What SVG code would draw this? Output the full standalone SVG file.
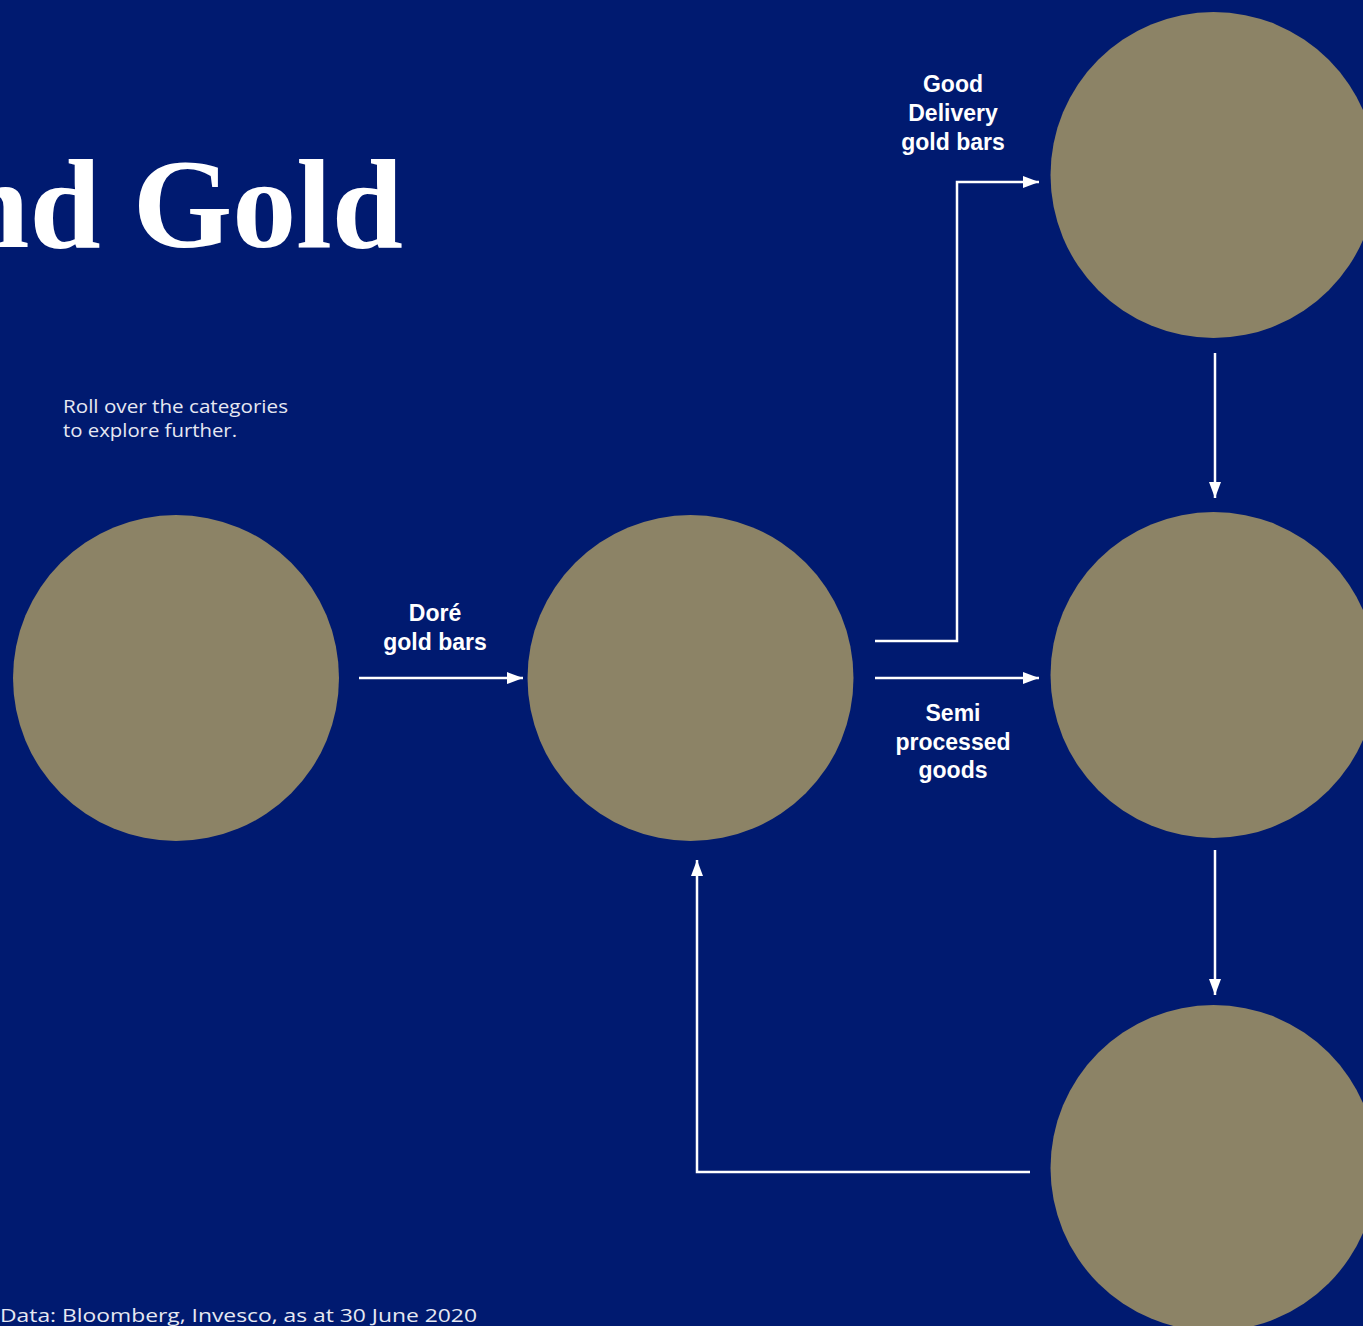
<svg xmlns="http://www.w3.org/2000/svg" width="1363" height="1326" viewBox="0 0 1363 1326">
<defs>
<marker id="ah" viewBox="0 0 16 12" refX="16" refY="6" markerWidth="16" markerHeight="12" markerUnits="userSpaceOnUse" orient="auto">
<path d="M0,0 L16,6 L0,12 Z" fill="#ffffff"/>
</marker>
<style>
.node{fill:#8C8366}
.lbl{font-family:"Liberation Sans",Arial,sans-serif;font-weight:bold;font-size:23px;fill:#ffffff;text-anchor:middle}
.conn{fill:none;stroke:#ffffff;stroke-width:2.5;marker-end:url(#ah)}
.note{font-family:"Open Sans","Liberation Sans",Arial,sans-serif;font-size:19px;fill:#E6E8F2}
</style>
</defs>
<rect x="0" y="0" width="1363" height="1326" fill="#001A70"/>
<text x="403" y="247" text-anchor="end" font-family="'Liberation Serif','Times New Roman',serif" font-weight="bold" font-size="128" fill="#ffffff">nd Gold</text>
<text class="note" x="63" y="413" textLength="225" lengthAdjust="spacingAndGlyphs">Roll over the categories</text>
<text class="note" x="63" y="437" textLength="174" lengthAdjust="spacingAndGlyphs">to explore further.</text>
<text class="note" x="0" y="1322" font-size="22" textLength="477" lengthAdjust="spacingAndGlyphs">Data: Bloomberg, Invesco, as at 30 June 2020</text>
<g id="node-mine"><circle class="node" cx="176" cy="678" r="163"/></g>
<g id="node-refinery"><circle class="node" cx="690.5" cy="678" r="163"/></g>
<g id="node-vault"><circle class="node" cx="1213.5" cy="175" r="163"/></g>
<g id="node-fabrication"><circle class="node" cx="1213.5" cy="675" r="163"/></g>
<g id="node-consumer"><circle class="node" cx="1213.5" cy="1168" r="163"/></g>
<g id="connectors">
<path class="conn" d="M359,678 H523"/>
<path class="conn" d="M875,641 H957 V182 H1039"/>
<path class="conn" d="M875,678 H1039"/>
<path class="conn" d="M1215,353 V498"/>
<path class="conn" d="M1215,850 V995"/>
<path class="conn" d="M1030,1172 H697 V860"/>
</g>
<g id="labels">
<text class="lbl" x="953" y="92">Good</text>
<text class="lbl" x="953" y="121">Delivery</text>
<text class="lbl" x="953" y="150">gold bars</text>
<text class="lbl" x="435" y="621">Doré</text>
<text class="lbl" x="435" y="650">gold bars</text>
<text class="lbl" x="953" y="721">Semi</text>
<text class="lbl" x="953" y="750">processed</text>
<text class="lbl" x="953" y="778">goods</text>
</g>
</svg>
